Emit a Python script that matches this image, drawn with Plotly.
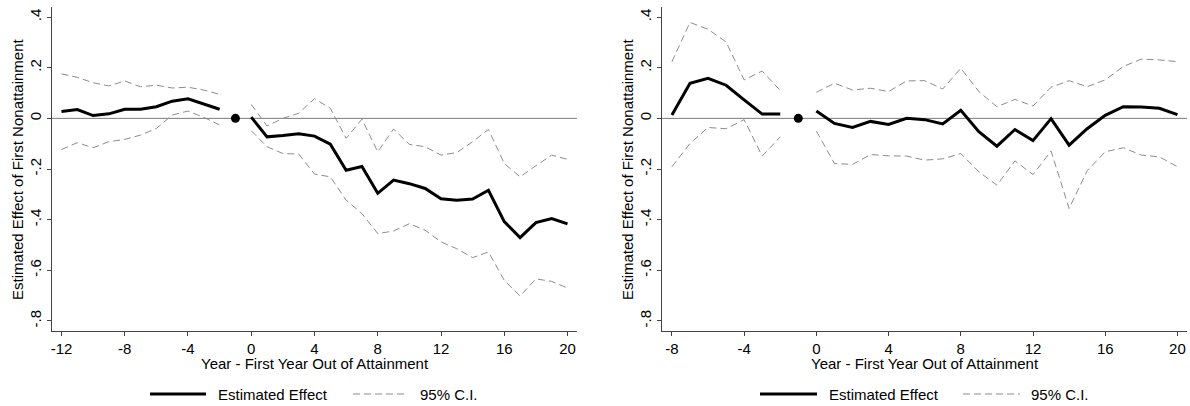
import plotly.graph_objects as go

# ---------------- data ----------------
years_left = list(range(-12, 21))
effect_left = [0.027, 0.035, 0.011, 0.018, 0.036, 0.036, 0.046, 0.068, 0.077, 0.056, 0.036, None,
               0.005, -0.073, -0.068, -0.061, -0.070, -0.102, -0.205, -0.190, -0.296, -0.244,
               -0.258, -0.277, -0.318, -0.323, -0.319, -0.284, -0.408, -0.471, -0.412, -0.396, -0.417]
upper_left = [0.176, 0.162, 0.141, 0.128, 0.148, 0.125, 0.131, 0.120, 0.123, 0.112, 0.095, None,
              0.055, -0.030, 0.000, 0.020, 0.078, 0.040, -0.079, -0.003, -0.132, -0.042,
              -0.103, -0.112, -0.145, -0.135, -0.092, -0.044, -0.178, -0.231, -0.187, -0.145, -0.162]
lower_left = [-0.123, -0.096, -0.116, -0.092, -0.083, -0.066, -0.040, 0.013, 0.029, 0.004, -0.026, None,
              -0.049, -0.112, -0.139, -0.141, -0.220, -0.231, -0.323, -0.376, -0.455, -0.445,
              -0.416, -0.442, -0.488, -0.515, -0.550, -0.528, -0.640, -0.702, -0.634, -0.644, -0.670]

years_right = list(range(-8, 21))
effect_right = [0.013, 0.139, 0.158, 0.131, 0.073, 0.017, 0.017, None,
                0.029, -0.020, -0.036, -0.012, -0.024, 0.000, -0.005, -0.022, 0.032, -0.053,
                -0.110, -0.044, -0.088, -0.001, -0.106, -0.041, 0.012, 0.046, 0.045, 0.040, 0.015]
upper_right = [0.224, 0.379, 0.352, 0.302, 0.152, 0.187, 0.110, None,
               0.103, 0.139, 0.112, 0.119, 0.106, 0.148, 0.149, 0.116, 0.198, 0.106,
               0.046, 0.075, 0.049, 0.123, 0.149, 0.125, 0.152, 0.205, 0.234, 0.231, 0.224]
lower_right = [-0.191, -0.099, -0.036, -0.041, -0.005, -0.149, -0.073, None,
               -0.050, -0.178, -0.182, -0.143, -0.148, -0.149, -0.165, -0.160, -0.139, -0.211,
               -0.264, -0.168, -0.222, -0.129, -0.356, -0.207, -0.132, -0.116, -0.145, -0.152, -0.191]

ref_year = [-1]
ref_value = [0]

y_tickvals = [0.4, 0.2, 0, -0.2, -0.4, -0.6, -0.8]
y_ticktext = [".4", ".2", "0", "-.2", "-.4", "-.6", "-.8"]
x_tickvals_left = [-12, -8, -4, 0, 4, 8, 12, 16, 20]
x_tickvals_right = [-8, -4, 0, 4, 8, 12, 16, 20]

x_title = "Year - First Year Out of Attainment"
y_title = "Estimated Effect of First Nonattainment"
name_effect = "Estimated Effect"
name_ci = "95% C.I."

# ---------------- figure ----------------
FONT = "Arial, 'Liberation Sans', sans-serif"
W, H = 1190, 406
CI_COLOR = "#8c8c8c"
CI_DASH = "7px,4px"
AXIS_COLOR = "#444444"

fig = go.Figure()

panels = [
    (years_left, effect_left, upper_left, lower_left, "x", "y"),
    (years_right, effect_right, upper_right, lower_right, "x2", "y2"),
]
for yrs, eff, up, lo, xa, ya in panels:
    fig.add_trace(go.Scatter(x=yrs, y=eff, mode="lines", name=name_effect,
                             line=dict(color="black", width=3), connectgaps=False,
                             xaxis=xa, yaxis=ya, showlegend=False))
    fig.add_trace(go.Scatter(x=yrs, y=up, mode="lines", name=name_ci,
                             line=dict(color=CI_COLOR, width=1, dash=CI_DASH), connectgaps=False,
                             xaxis=xa, yaxis=ya, showlegend=False))
    fig.add_trace(go.Scatter(x=yrs, y=lo, mode="lines", name=name_ci,
                             line=dict(color=CI_COLOR, width=1, dash=CI_DASH), connectgaps=False,
                             xaxis=xa, yaxis=ya, showlegend=False))
    fig.add_trace(go.Scatter(x=ref_year, y=ref_value, mode="markers",
                             marker=dict(color="black", size=9),
                             xaxis=xa, yaxis=ya, showlegend=False))

# domains in pixels
y_top, y_bot = 7, 331
ydom = [1 - y_bot / H, 1 - y_top / H]
left_dom = [52 / W, 577 / W]
right_dom = [662 / W, 1187 / W]

axis_common = dict(showline=True, linecolor=AXIS_COLOR, linewidth=1.2, ticks="outside",
                   ticklen=4, tickwidth=1.2, tickcolor=AXIS_COLOR, showgrid=False,
                   zeroline=False, tickfont=dict(family=FONT, size=15, color="black"))

fig.update_layout(
    width=W, height=H,
    margin=dict(l=0, r=0, t=0, b=0),
    paper_bgcolor="white", plot_bgcolor="white",
    font=dict(family=FONT, size=15, color="black"),
    showlegend=False,
    xaxis=dict(domain=left_dom, range=[-12.6, 20.6], tickvals=x_tickvals_left,
               ticktext=[str(v) for v in x_tickvals_left], anchor="y", **axis_common),
    yaxis=dict(domain=ydom, range=[-0.84, 0.44], tickvals=y_tickvals, ticktext=y_ticktext,
               tickangle=-90, anchor="x", **axis_common),
    xaxis2=dict(domain=right_dom, range=[-8.55, 20.53], tickvals=x_tickvals_right,
                ticktext=[str(v) for v in x_tickvals_right], anchor="y2", **axis_common),
    yaxis2=dict(domain=ydom, range=[-0.84, 0.44], tickvals=y_tickvals, ticktext=y_ticktext,
                tickangle=-90, anchor="x2", **axis_common),
)

# zero reference lines
for xr, yr in [("x domain", "y"), ("x2 domain", "y2")]:
    fig.add_shape(type="line", xref=xr, yref=yr, x0=0, x1=1, y0=0, y1=0,
                  line=dict(color="#7a7a7a", width=1), layer="below")

# axis titles
for cx in [(52 + 577) / 2, (662 + 1187) / 2]:
    fig.add_annotation(text=x_title, xref="paper", yref="paper", x=cx / W, y=1 - 363 / H,
                       xanchor="center", yanchor="middle", showarrow=False,
                       font=dict(family=FONT, size=15, color="black"))
for cx in [17, 627]:
    fig.add_annotation(text=y_title, xref="paper", yref="paper", x=cx / W, y=1 - 169 / H,
                       xanchor="center", yanchor="middle", showarrow=False, textangle=-90,
                       font=dict(family=FONT, size=15, color="black"))

# legends (one under each panel)
LEG_Y = 1 - 394 / H
for (e0, e1, et, c0, c1, ct) in [(150, 206, 216, 353, 408, 418), (760, 817, 827, 963, 1020, 1029)]:
    fig.add_shape(type="line", xref="paper", yref="paper", x0=e0 / W, x1=e1 / W,
                  y0=LEG_Y, y1=LEG_Y, line=dict(color="black", width=3))
    fig.add_annotation(text=name_effect, xref="paper", yref="paper", x=et / W, y=LEG_Y,
                       xanchor="left", yanchor="middle", showarrow=False,
                       font=dict(family=FONT, size=15, color="black"))
    fig.add_shape(type="line", xref="paper", yref="paper", x0=c0 / W, x1=c1 / W,
                  y0=LEG_Y, y1=LEG_Y, line=dict(color=CI_COLOR, width=1, dash=CI_DASH))
    fig.add_annotation(text=name_ci, xref="paper", yref="paper", x=ct / W, y=LEG_Y,
                       xanchor="left", yanchor="middle", showarrow=False,
                       font=dict(family=FONT, size=15, color="black"))

fig.write_html("out.html")
